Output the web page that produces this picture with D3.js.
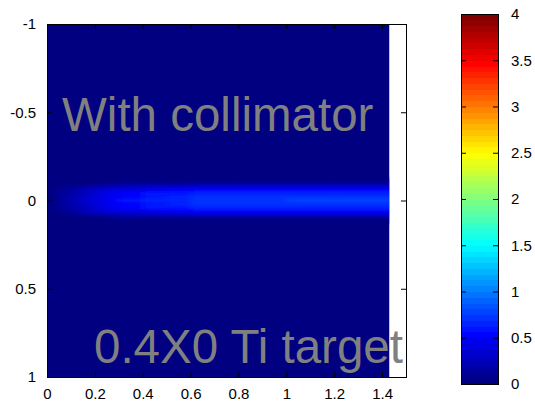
<!DOCTYPE html>
<html lang="en">
<head>
    <meta charset="UTF-8">
    <title>With collimator - 0.4X0 Ti target</title>
    <script src="https://d3js.org/d3.v7.min.js"></script>
    <style>
        body { margin: 0; background: #fff; }
        svg { display: block; font-family: "Liberation Sans", Arial, sans-serif; }
        .tick text { font-size: 15px; fill: #000; }
        .tick line { stroke: #000; }
        .note { fill: #808080; font-size: 47.5px; }
    </style>
</head>
<body>
<div id="chart"></div>
<script>
    // x bin edges of the map (the map stops at 1.43)
    const xEdges = [0, 0.03, 0.06, 0.09, 0.12, 0.15, 0.2, 0.25, 0.3, 0.4, 0.5, 0.6, 0.8, 1.0, 1.2, 1.43];
    // y bin edges of the beam band
    const yEdges = [-0.13, -0.11, -0.09, -0.07, -0.05, -0.03, -0.01, 0.01, 0.03, 0.05, 0.07, 0.09, 0.11, 0.13];
    // level outside the band
    const backgroundLevel = 0.02;
    // one row per y bin, one value per x bin
    const levels = [
        [0.02, 0.02, 0.02, 0.02, 0.02, 0.02, 0.02, 0.03, 0.03, 0.03, 0.03, 0.04, 0.04, 0.04, 0.04],
        [0.02, 0.02, 0.02, 0.03, 0.04, 0.05, 0.06, 0.08, 0.09, 0.10, 0.10, 0.11, 0.11, 0.11, 0.11],
        [0.03, 0.05, 0.07, 0.09, 0.12, 0.15, 0.19, 0.23, 0.26, 0.29, 0.31, 0.32, 0.33, 0.34, 0.34],
        [0.05, 0.08, 0.11, 0.15, 0.20, 0.25, 0.32, 0.38, 0.43, 0.48, 0.51, 0.54, 0.56, 0.56, 0.56],
        [0.05, 0.09, 0.14, 0.18, 0.23, 0.30, 0.38, 0.45, 0.51, 0.58, 0.61, 0.65, 0.67, 0.68, 0.68],
        [0.06, 0.10, 0.15, 0.19, 0.25, 0.32, 0.41, 0.49, 0.55, 0.62, 0.66, 0.70, 0.72, 0.73, 0.73],
        [0.06, 0.10, 0.15, 0.20, 0.26, 0.33, 0.42, 0.50, 0.57, 0.64, 0.68, 0.72, 0.74, 0.75, 0.75],
        [0.06, 0.10, 0.15, 0.19, 0.25, 0.32, 0.41, 0.49, 0.55, 0.62, 0.66, 0.70, 0.72, 0.73, 0.73],
        [0.05, 0.09, 0.14, 0.18, 0.23, 0.30, 0.38, 0.45, 0.51, 0.58, 0.61, 0.65, 0.67, 0.68, 0.68],
        [0.05, 0.08, 0.11, 0.15, 0.20, 0.25, 0.32, 0.38, 0.43, 0.48, 0.51, 0.54, 0.56, 0.56, 0.56],
        [0.03, 0.05, 0.07, 0.09, 0.12, 0.15, 0.19, 0.23, 0.26, 0.29, 0.31, 0.32, 0.33, 0.34, 0.34],
        [0.02, 0.02, 0.02, 0.03, 0.04, 0.05, 0.06, 0.08, 0.09, 0.10, 0.10, 0.11, 0.11, 0.11, 0.11],
        [0.02, 0.02, 0.02, 0.02, 0.02, 0.02, 0.02, 0.03, 0.03, 0.03, 0.03, 0.04, 0.04, 0.04, 0.04]
    ];
    const xTicks = [0, 0.2, 0.4, 0.6, 0.8, 1, 1.2, 1.4];
    const yTicks = [-1, -0.5, 0, 0.5, 1];
    const cTicks = [0, 0.5, 1, 1.5, 2, 2.5, 3, 3.5, 4];
    const colorLimits = [0, 4];
    const nColors = 64;

    const width = 535, height = 401;
    const plot = { left: 47, right: 406, top: 24, bottom: 377 };
    const bar = { left: 461, right: 498, top: 14, bottom: 384 };

    const svg = d3.select("#chart").append("svg")
        .attr("width", width)
        .attr("height", height);

    const x = d3.scaleLinear().domain([0, 1.5]).range([plot.left, plot.right]);
    const y = d3.scaleLinear().domain([-1, 1]).range([plot.top, plot.bottom]);
    const cy = d3.scaleLinear().domain(colorLimits).range([bar.bottom, bar.top]);

    // jet colormap, 64 steps
    function jet(f) {
        const c = v => Math.round(255 * Math.max(0, Math.min(1, v)));
        return d3.rgb(c(1.5 - Math.abs(4 * f - 3)), c(1.5 - Math.abs(4 * f - 2)), c(1.5 - Math.abs(4 * f - 1)));
    }
    function levelColor(v) {
        let i = Math.floor((v - colorLimits[0]) / (colorLimits[1] - colorLimits[0]) * nColors);
        i = Math.max(0, Math.min(nColors - 1, i));
        return jet(i / (nColors - 1));
    }

    const mapRight = x(xEdges[xEdges.length - 1]);
    const defs = svg.append("defs");
    defs.append("clipPath").attr("id", "map-clip")
        .append("rect")
        .attr("x", x(0)).attr("y", y(-1))
        .attr("width", mapRight - x(0)).attr("height", y(1) - y(-1));
    defs.append("filter").attr("id", "soft")
        .attr("x", "-5%").attr("y", "-20%").attr("width", "110%").attr("height", "140%")
        .append("feGaussianBlur").attr("stdDeviation", "4 0.9");

    // background of the map
    svg.append("rect")
        .attr("x", x(0))
        .attr("y", y(-1))
        .attr("width", mapRight - x(0))
        .attr("height", y(1) - y(-1))
        .attr("fill", levelColor(backgroundLevel));

    // band cells (outer columns run past the map edge so the blur keeps them full, then clipped)
    const cells = [];
    levels.forEach((row, r) => row.forEach((v, c) => cells.push({ r, c, v })));
    const last = xEdges.length - 2;
    svg.append("g")
        .attr("clip-path", "url(#map-clip)")
        .append("g")
        .attr("filter", "url(#soft)")
        .selectAll("rect")
        .data(cells)
        .enter()
        .append("rect")
        .attr("x", d => x(xEdges[d.c]) - (d.c === 0 ? 12 : 0))
        .attr("y", d => y(yEdges[d.r]))
        .attr("width", d => x(xEdges[d.c + 1]) - x(xEdges[d.c]) + 0.5 + (d.c === 0 ? 12 : 0) + (d.c === last ? 12 : 0))
        .attr("height", d => y(yEdges[d.r + 1]) - y(yEdges[d.r]) + 0.5)
        .attr("fill", d => levelColor(d.v));

    // axes with inward ticks on all four sides
    const fmt = d => String(d);
    svg.append("g")
        .attr("transform", "translate(0," + plot.bottom + ")")
        .call(d3.axisBottom(x).tickValues(xTicks).tickFormat(fmt).tickSize(-5).tickPadding(11))
        .call(g => g.select(".domain").remove());
    svg.append("g")
        .attr("transform", "translate(0," + plot.top + ")")
        .call(d3.axisTop(x).tickValues(xTicks).tickFormat("").tickSize(-5))
        .call(g => g.select(".domain").remove());
    svg.append("g")
        .attr("transform", "translate(" + plot.left + ",0)")
        .call(d3.axisLeft(y).tickValues(yTicks).tickFormat(fmt).tickSize(-5).tickPadding(11))
        .call(g => g.select(".domain").remove());
    svg.append("g")
        .attr("transform", "translate(" + plot.right + ",0)")
        .call(d3.axisRight(y).tickValues(yTicks).tickFormat("").tickSize(-5))
        .call(g => g.select(".domain").remove());
    svg.selectAll(".tick text").attr("font-family", null).attr("font-size", null);

    svg.append("rect")
        .attr("x", plot.left + 0.5)
        .attr("y", plot.top + 0.5)
        .attr("width", plot.right - plot.left)
        .attr("height", plot.bottom - plot.top)
        .attr("fill", "none")
        .attr("stroke", "#000");

    // annotations
    svg.append("text").attr("class", "note").attr("x", 62).attr("y", 131).text("With collimator");
    svg.append("text").attr("class", "note").attr("x", 94).attr("y", 363).text("0.4X0 Ti target");

    // colorbar
    const steps = d3.range(nColors);
    const step = (colorLimits[1] - colorLimits[0]) / nColors;
    svg.append("g")
        .attr("shape-rendering", "crispEdges")
        .selectAll("rect")
        .data(steps)
        .enter()
        .append("rect")
        .attr("x", bar.left)
        .attr("y", i => cy((i + 1) * step))
        .attr("width", bar.right - bar.left)
        .attr("height", i => cy(i * step) - cy((i + 1) * step) + 0.5)
        .attr("fill", i => jet(i / (nColors - 1)));

    const cbar = svg.append("g");
    cbar.append("g")
        .attr("transform", "translate(" + bar.right + ",0)")
        .call(d3.axisRight(cy).tickValues(cTicks).tickFormat(fmt).tickSize(-5).tickPadding(13))
        .call(g => g.select(".domain").remove());
    cbar.append("g")
        .attr("transform", "translate(" + bar.left + ",0)")
        .call(d3.axisLeft(cy).tickValues(cTicks).tickFormat("").tickSize(-5))
        .call(g => g.select(".domain").remove());
    cbar.selectAll(".tick text").attr("font-family", null).attr("font-size", null);

    svg.append("rect")
        .attr("x", bar.left + 0.5)
        .attr("y", bar.top + 0.5)
        .attr("width", bar.right - bar.left)
        .attr("height", bar.bottom - bar.top)
        .attr("fill", "none")
        .attr("stroke", "#000");
</script>
</body>
</html>
